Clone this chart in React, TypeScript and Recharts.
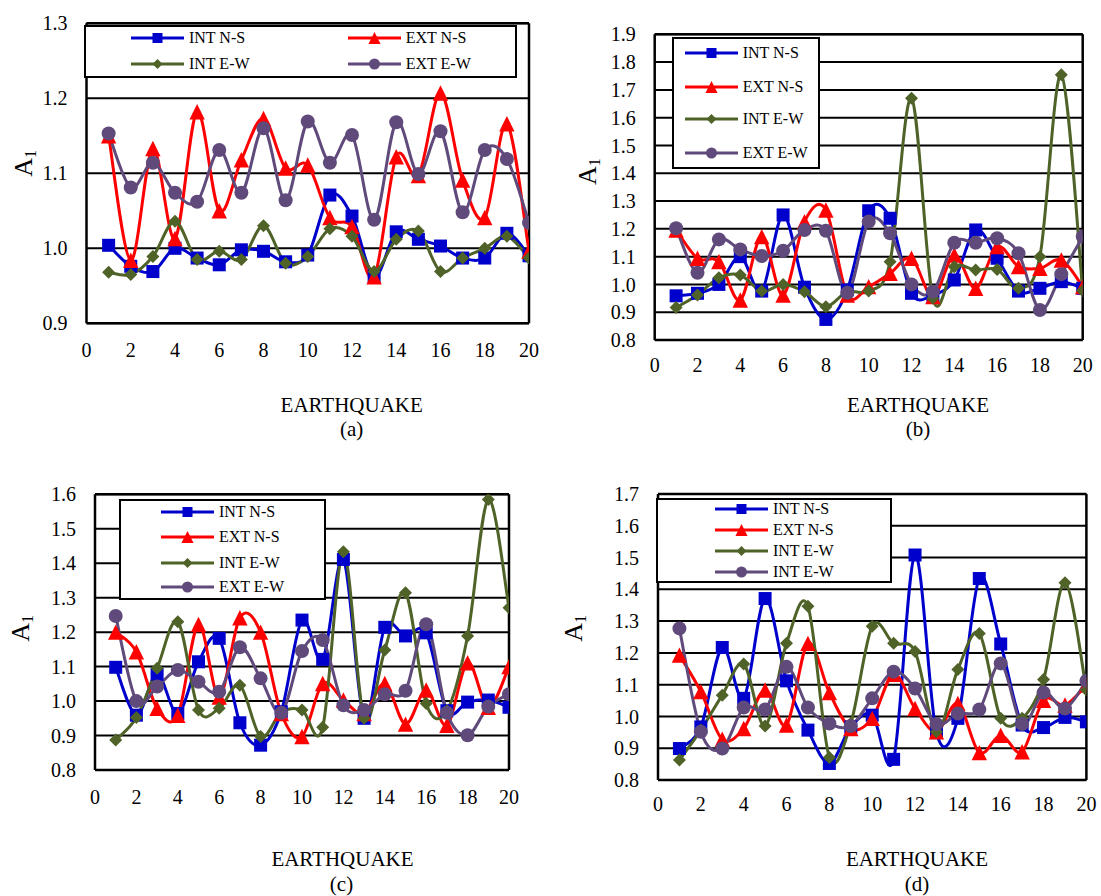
import React from 'react';
import { LineChart, Line, XAxis, YAxis, CartesianGrid, ReferenceLine, Legend } from 'recharts';

// ---------- data ----------
const earthquakes = [1, 2, 3, 4, 5, 6, 7, 8, 9, 10, 11, 12, 13, 14, 15, 16, 17, 18, 19, 20];
const xTicks = [0, 2, 4, 6, 8, 10, 12, 14, 16, 18, 20];

const aIntNS = [1.004, 0.976, 0.969, 1.0, 0.987, 0.978, 0.998, 0.996, 0.982, 0.991, 1.071, 1.043, 0.962, 1.022, 1.012, 1.003, 0.987, 0.987, 1.02, 0.99];
const aExtNS = [1.15, 0.984, 1.133, 1.013, 1.182, 1.05, 1.118, 1.173, 1.107, 1.111, 1.041, 1.029, 0.962, 1.122, 1.097, 1.207, 1.091, 1.041, 1.166, 0.996];
const aIntEW = [0.968, 0.965, 0.989, 1.036, 0.985, 0.996, 0.985, 1.03, 0.98, 0.989, 1.026, 1.016, 0.969, 1.012, 1.023, 0.969, 0.987, 1.0, 1.016, 0.987];
const aExtEW = [1.153, 1.081, 1.114, 1.074, 1.062, 1.131, 1.074, 1.16, 1.064, 1.169, 1.114, 1.151, 1.038, 1.168, 1.099, 1.156, 1.048, 1.131, 1.119, 1.034];

const bIntNS = [0.959, 0.968, 1.0, 1.1, 0.976, 1.25, 0.99, 0.874, 0.98, 1.265, 1.238, 0.968, 0.962, 1.016, 1.196, 1.094, 0.976, 0.986, 1.01, 0.986];
const bExtNS = [1.196, 1.094, 1.082, 0.944, 1.172, 0.962, 1.226, 1.268, 0.962, 0.992, 1.04, 1.094, 0.956, 1.106, 0.986, 1.136, 1.064, 1.058, 1.088, 0.992];
const bIntEW = [0.917, 0.962, 1.024, 1.034, 0.976, 1.0, 0.974, 0.92, 0.974, 0.976, 1.082, 1.67, 0.95, 1.064, 1.052, 1.054, 0.986, 1.1, 1.754, 0.977];
const bExtEW = [1.202, 1.042, 1.162, 1.126, 1.102, 1.121, 1.196, 1.193, 0.97, 1.226, 1.184, 1.0, 0.974, 1.15, 1.15, 1.166, 1.112, 0.908, 1.037, 1.172];

const cIntNS = [1.098, 0.959, 1.078, 0.964, 1.114, 1.182, 0.937, 0.872, 0.969, 1.235, 1.121, 1.411, 0.95, 1.214, 1.189, 1.198, 0.972, 0.997, 1.003, 0.982];
const cExtNS = [1.2, 1.143, 0.979, 0.959, 1.222, 1.012, 1.242, 1.2, 0.964, 0.897, 1.051, 1.003, 0.964, 1.051, 0.933, 1.032, 0.93, 1.111, 0.982, 1.1];
const cIntEW = [0.887, 0.952, 1.095, 1.23, 0.974, 0.979, 1.046, 0.897, 0.967, 0.974, 0.924, 1.433, 0.95, 1.148, 1.314, 0.993, 0.972, 1.189, 1.585, 1.271];
const cExtEW = [1.247, 1.0, 1.042, 1.09, 1.056, 1.027, 1.156, 1.066, 0.966, 1.145, 1.177, 0.988, 0.974, 1.02, 1.03, 1.223, 0.966, 0.901, 0.984, 1.02];

const dIntNS = [0.899, 0.967, 1.217, 1.057, 1.371, 1.112, 0.957, 0.852, 0.967, 1.004, 0.865, 1.508, 0.949, 0.994, 1.434, 1.228, 0.973, 0.965, 0.997, 0.983];
const dExtNS = [1.193, 1.078, 0.928, 0.962, 1.083, 0.973, 1.23, 1.075, 0.962, 0.994, 1.133, 1.025, 0.952, 1.041, 0.886, 0.941, 0.889, 1.051, 1.036, 1.099];
const dIntEW = [0.863, 0.957, 1.067, 1.165, 0.97, 1.23, 1.347, 0.871, 0.978, 1.284, 1.23, 1.204, 0.952, 1.148, 1.261, 0.994, 0.994, 1.116, 1.421, 1.083];
const dExtEW = [1.277, 0.952, 0.899, 1.028, 1.022, 1.156, 1.028, 0.978, 0.97, 1.057, 1.141, 1.088, 0.976, 1.009, 1.022, 1.167, 0.976, 1.075, 1.025, 1.112];

const aYTicks = [0.9, 1.0, 1.1, 1.2, 1.3];
const bYTicks = [0.8, 0.9, 1.0, 1.1, 1.2, 1.3, 1.4, 1.5, 1.6, 1.7, 1.8, 1.9];
const cYTicks = [0.8, 0.9, 1.0, 1.1, 1.2, 1.3, 1.4, 1.5, 1.6];
const dYTicks = [0.8, 0.9, 1.0, 1.1, 1.2, 1.3, 1.4, 1.5, 1.6, 1.7];

const namesStd = ['INT N-S', 'EXT N-S', 'INT E-W', 'EXT E-W'];
const namesD = ['INT N-S', 'EXT N-S', 'INT E-W', 'INT E-W'];
const panelLetters = ['(a)', '(b)', '(c)', '(d)'];
const xTitle = 'EARTHQUAKE';

// ---------- styles ----------
const FONT = '"Liberation Serif", "Times New Roman", Times, serif';
const KEYS = ['s1', 's2', 's3', 's4'];
const COLORS = ['#0000CC', '#FF0000', '#4F6228', '#604A7B'];
const SHAPES = ['square', 'triangle', 'diamond', 'circle'];

const buildRows = (s: number[][]) =>
  earthquakes.map((x, i) => ({ x, s1: s[0][i], s2: s[1][i], s3: s[2][i], s4: s[3][i] }));

// Excel-like smoothed line (uniform Catmull-Rom as cubic Bezier)
const excelCurve = (context: any) => {
  let pts: number[][] = [];
  return {
    areaStart() {},
    areaEnd() {},
    lineStart() {
      pts = [];
    },
    point(x: number, y: number) {
      pts.push([+x, +y]);
    },
    lineEnd() {
      const n = pts.length;
      if (!n) return;
      context.moveTo(pts[0][0], pts[0][1]);
      for (let i = 0; i < n - 1; i++) {
        const p0 = pts[i - 1] || pts[i];
        const p1 = pts[i];
        const p2 = pts[i + 1];
        const p3 = pts[i + 2] || p2;
        context.bezierCurveTo(
          p1[0] + (p2[0] - p0[0]) / 6,
          p1[1] + (p2[1] - p0[1]) / 6,
          p2[0] - (p3[0] - p1[0]) / 6,
          p2[1] - (p3[1] - p1[1]) / 6,
          p2[0],
          p2[1]
        );
      }
    },
  };
};

const Marker = ({ shape, cx, cy, color, size }: any) => {
  if (cx == null || cy == null) return null;
  const h = size / 2;
  if (shape === 'square') return <rect x={cx - h} y={cy - h} width={size} height={size} fill={color} />;
  if (shape === 'triangle') {
    const s = size * 1.1;
    return (
      <polygon
        points={`${cx},${cy - s / 2} ${cx + s / 2},${cy + s / 2} ${cx - s / 2},${cy + s / 2}`}
        fill={color}
      />
    );
  }
  if (shape === 'diamond') {
    return <polygon points={`${cx},${cy - h} ${cx + h},${cy} ${cx},${cy + h} ${cx - h},${cy}`} fill={color} />;
  }
  return <circle cx={cx} cy={cy} r={h} fill={color} />;
};

const plotSizes: Record<string, number> = { square: 13, triangle: 14, diamond: 13, circle: 14 };
const legendSizes: Record<string, number> = { square: 10, triangle: 11, diamond: 10, circle: 11 };

type Panel = {
  box: { x: number; y: number; w: number; h: number };
  margin: { top: number; right: number; bottom: number; left: number };
  yTicks: number[];
  series: number[][];
  names: string[];
  tickMarginX: number;
  legend: {
    left: number;
    top: number;
    width: number;
    height: number;
    items: { x: number; y: number }[];
  };
};

const LEG_LINE = 53;
const LEG_GAP = 5;

const panels: Panel[] = [
  {
    box: { x: 0, y: 0, w: 550, h: 460 },
    margin: { top: 23.3, right: 21, bottom: 96.7, left: 26.5 },
    yTicks: aYTicks,
    series: [aIntNS, aExtNS, aIntEW, aExtEW],
    names: namesStd,
    tickMarginX: 19,
    legend: {
      left: 84.4,
      top: 25,
      width: 432.6,
      height: 52.7,
      items: [
        { x: 46.6, y: 12.7 },
        { x: 263.4, y: 12.7 },
        { x: 46.6, y: 39.3 },
        { x: 263.4, y: 39.3 },
      ],
    },
  },
  {
    box: { x: 550, y: 0, w: 551, h: 460 },
    margin: { top: 34.3, right: 18.3, bottom: 80, left: 44.7 },
    yTicks: bYTicks,
    series: [bIntNS, bExtNS, bIntEW, bExtEW],
    names: namesStd,
    tickMarginX: 18,
    legend: {
      left: 122,
      top: 36.7,
      width: 148,
      height: 132.6,
      items: [
        { x: 12.7, y: 16 },
        { x: 12.7, y: 50 },
        { x: 12.7, y: 82.6 },
        { x: 12.7, y: 116 },
      ],
    },
  },
  {
    box: { x: 0, y: 460, w: 550, h: 436 },
    margin: { top: 34.3, right: 41, bottom: 86, left: 35 },
    yTicks: cYTicks,
    series: [cIntNS, cExtNS, cIntEW, cExtEW],
    names: namesStd,
    tickMarginX: 19.6,
    legend: {
      left: 118.8,
      top: 39.3,
      width: 207.2,
      height: 100.7,
      items: [
        { x: 42.2, y: 12.4 },
        { x: 42.2, y: 37.4 },
        { x: 42.2, y: 63.4 },
        { x: 42.2, y: 88 },
      ],
    },
  },
  {
    box: { x: 550, y: 460, w: 551, h: 436 },
    margin: { top: 34, right: 14.6, bottom: 76, left: 48 },
    yTicks: dYTicks,
    series: [dIntNS, dExtNS, dIntEW, dExtEW],
    names: namesD,
    tickMarginX: 17,
    legend: {
      left: 106.4,
      top: 37.7,
      width: 235.2,
      height: 85.6,
      items: [
        { x: 58.6, y: 11.3 },
        { x: 58.6, y: 32.3 },
        { x: 58.6, y: 53.3 },
        { x: 58.6, y: 74.6 },
      ],
    },
  },
];

const LegendBox = ({ payload, cfg }: any) => {
  const entries = (payload || []).filter((e: any) => KEYS.includes(e.dataKey));
  return (
    <div
      style={{
        position: 'relative',
        width: cfg.width,
        height: cfg.height,
        boxSizing: 'border-box',
        border: '2px solid #000',
        background: '#fff',
        fontFamily: FONT,
        fontSize: 16,
        color: '#000',
      }}
    >
      {entries.map((e: any) => {
        const idx = KEYS.indexOf(e.dataKey);
        const pos = cfg.items[idx];
        const shape = SHAPES[idx];
        return (
          <div key={e.dataKey} style={{ position: 'absolute', left: pos.x - 2, top: pos.y - 2 - 10, height: 20 }}>
            <svg width={LEG_LINE} height={20} style={{ position: 'absolute', left: 0, top: 0 }}>
              <line x1={0} y1={10} x2={LEG_LINE} y2={10} stroke={COLORS[idx]} strokeWidth={3} />
              <Marker shape={shape} cx={LEG_LINE / 2} cy={10} color={COLORS[idx]} size={legendSizes[shape]} />
            </svg>
            <span
              style={{
                position: 'absolute',
                left: LEG_LINE + LEG_GAP,
                top: 0,
                lineHeight: '20px',
                whiteSpace: 'nowrap',
              }}
            >
              {e.value}
            </span>
          </div>
        );
      })}
    </div>
  );
};

const PanelChart = ({ p }: { p: Panel }) => {
  const data = buildRows(p.series);
  const yMin = p.yTicks[0];
  const yMax = p.yTicks[p.yTicks.length - 1];
  return (
    <div style={{ position: 'absolute', left: p.box.x, top: p.box.y }}>
      <LineChart width={p.box.w} height={p.box.h} data={data} margin={p.margin}>
        <CartesianGrid horizontal vertical={false} stroke="#000" strokeWidth={2} />
        <XAxis
          dataKey="x"
          type="number"
          domain={[0, 20]}
          ticks={xTicks}
          allowDataOverflow
          height={40}
          tickLine={false}
          tickSize={0}
          tickMargin={p.tickMarginX}
          axisLine={{ stroke: '#000', strokeWidth: 2.5 }}
          tick={{ fill: '#000', fontSize: 20, fontFamily: FONT }}
          interval={0}
        />
        <YAxis
          type="number"
          domain={[yMin, yMax]}
          ticks={p.yTicks}
          allowDataOverflow
          width={60}
          tickLine={false}
          tickSize={0}
          tickMargin={19}
          axisLine={{ stroke: '#000', strokeWidth: 2.5 }}
          tick={{ fill: '#000', fontSize: 20, fontFamily: FONT }}
          tickFormatter={(v: number) => v.toFixed(1)}
          interval={0}
        />
        <ReferenceLine x={20} stroke="#000" strokeWidth={2.5} />
        <ReferenceLine y={yMax} stroke="#000" strokeWidth={2.5} />
        {KEYS.map((k, i) => (
          <Line
            key={k}
            dataKey={k}
            name={p.names[i]}
            type={excelCurve as any}
            stroke={COLORS[i]}
            strokeWidth={3}
            isAnimationActive={false}
            activeDot={false}
            legendType="line"
            dot={(props: any) => (
              <Marker
                key={`${k}-${props.index}`}
                shape={SHAPES[i]}
                cx={props.cx}
                cy={props.cy}
                color={COLORS[i]}
                size={plotSizes[SHAPES[i]]}
              />
            )}
          />
        ))}
        <Legend
          layout="vertical"
          align="center"
          verticalAlign="middle"
          wrapperStyle={{
            left: p.legend.left,
            top: p.legend.top,
            width: p.legend.width,
            height: p.legend.height,
          }}
          content={(props: any) => <LegendBox payload={props.payload} cfg={p.legend} />}
        />
      </LineChart>
    </div>
  );
};

// label positions for axis titles
const yLabelPos = [
  { x: 31.7, y: 176.7 },
  { x: 596, y: 185 },
  { x: 29.3, y: 641.7 },
  { x: 582.4, y: 641.7 },
];
const xTitlePos = [
  { x: 351.7, y: 411.7, lx: 351.7, ly: 436.3 },
  { x: 918, y: 411.7, lx: 918, ly: 436.3 },
  { x: 342.5, y: 866, lx: 341.5, ly: 891 },
  { x: 917, y: 866, lx: 917, ly: 891 },
];

export default function App() {
  return (
    <div
      style={{
        position: 'absolute',
        left: 0,
        top: 0,
        width: 1101,
        height: 896,
        background: '#fff',
        overflow: 'hidden',
        fontFamily: FONT,
      }}
    >
      {panels.map((p, i) => (
        <PanelChart key={i} p={p} />
      ))}
      <svg
        width={1101}
        height={896}
        style={{ position: 'absolute', left: 0, top: 0, pointerEvents: 'none' }}
        fontFamily={FONT}
      >
        {yLabelPos.map((pos, i) => (
          <text key={`yl${i}`} transform={`translate(${pos.x},${pos.y}) rotate(-90)`} fontSize={26} fill="#000">
            A
            <tspan fontSize={16} dy={4}>
              1
            </tspan>
          </text>
        ))}
        {xTitlePos.map((pos, i) => (
          <g key={`xt${i}`}>
            <text x={pos.x} y={pos.y} textAnchor="middle" fontSize={21} fill="#000">
              {xTitle}
            </text>
            <text x={pos.lx} y={pos.ly} textAnchor="middle" fontSize={21} fill="#000">
              {panelLetters[i]}
            </text>
          </g>
        ))}
      </svg>
    </div>
  );
}
